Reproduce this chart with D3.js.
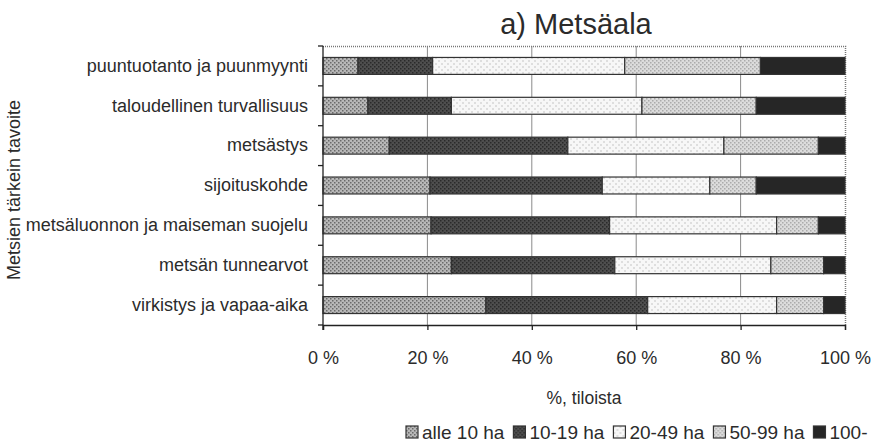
<!DOCTYPE html>
<html><head><meta charset="utf-8">
<script src="https://cdn.jsdelivr.net/npm/d3@7"></script>
<style>
body{margin:0;background:#fff;}
text{font-family:"Liberation Sans",Arial,sans-serif;fill:#2b2b2b;}
</style></head>
<body><svg id="c" width="873" height="446"></svg>
<script>
const categories = ["puuntuotanto ja puunmyynti","taloudellinen turvallisuus","metsästys","sijoituskohde","metsäluonnon ja maiseman suojelu","metsän tunnearvot","virkistys ja vapaa-aika"];
const seriesNames = ["alle 10 ha","10-19 ha","20-49 ha","50-99 ha","100-"];
const alle10 = [6.7, 8.6, 12.7, 20.5, 20.7, 24.6, 31.2];
const ha10_19 = [14.3, 16.0, 34.2, 33.0, 34.2, 31.3, 31.0];
const ha20_49 = [36.8, 36.5, 29.9, 20.6, 32.0, 29.9, 24.7];
const ha50_99 = [26.0, 21.9, 18.1, 8.9, 8.0, 10.1, 9.0];
const ha100 = [16.2, 17.0, 5.1, 17.0, 5.1, 4.1, 4.1];
const xTicks = [0,20,40,60,80,100];
const title = "a) Metsäala";
const xTitle = "%, tiloista";
const yTitle = "Metsien tärkein tavoite";

const svg = d3.select("#c");
const defs = svg.append("defs");
// dotted textures
const pats = [
  {id:"p0", base:"#b8b8b8", dot:"#6a6a6a", s:2},
  {id:"p1", base:"#4e4e4e", dot:"#2a2a2a", s:2},
  {id:"p2", base:"#f7f7f7", dot:"#dedede", s:3},
  {id:"p3", base:"#dcdcdc", dot:"#ababab", s:2},
  {id:"p4", base:"#262626", dot:"#262626", s:2}
];
pats.forEach(p=>{
  const pt = defs.append("pattern").attr("id",p.id).attr("patternUnits","userSpaceOnUse")
    .attr("width",p.s*2).attr("height",p.s*2);
  pt.append("rect").attr("width",p.s*2).attr("height",p.s*2).attr("fill",p.base);
  pt.append("rect").attr("width",p.s/2+0.5).attr("height",p.s/2+0.5).attr("fill",p.dot);
  pt.append("rect").attr("x",p.s).attr("y",p.s).attr("width",p.s/2+0.5).attr("height",p.s/2+0.5).attr("fill",p.dot);
});

const L=323, R=845, T=46, B=325;
const x = d3.scaleLinear().domain([0,100]).range([L,R]);
const y = d3.scaleBand().domain(categories).range([T,B]).paddingInner(0.575).paddingOuter(0.2875);

// gridlines
svg.append("g").selectAll("line").data(xTicks.slice(1,-1)).join("line")
  .attr("x1",d=>x(d)).attr("x2",d=>x(d)).attr("y1",T).attr("y2",B)
  .attr("stroke","#8a8a8a").attr("stroke-width",1);
// plot border top/right dotted
svg.append("path").attr("d",`M${L},${T+0.5}H${R+0.5}V${B}`).attr("fill","none")
  .attr("stroke","#777").attr("stroke-width",1.5).attr("stroke-dasharray","1,1");

// stacked data
const seriesArrays = [alle10, ha10_19, ha20_49, ha50_99, ha100];
const table = categories.map((c,i)=>{const o={cat:c}; seriesNames.forEach((s,j)=>o[s]=seriesArrays[j][i]); return o;});
const stacked = d3.stack().keys(seriesNames)(table);

svg.append("g").selectAll("g").data(stacked).join("g")
  .attr("fill",(d,i)=>`url(#p${i})`)
  .selectAll("rect").data(d=>d).join("rect")
  .attr("x",d=>x(d[0])).attr("width",d=>x(d[1])-x(d[0]))
  .attr("y",d=>y(d.data.cat)).attr("height",y.bandwidth())
  .attr("stroke","#333").attr("stroke-width",1.2);

// left axis line + boundary ticks
const half = (y.step()-y.bandwidth())/2;
const bounds = categories.map(c=>y(c)-half).concat([B]);
svg.append("line").attr("x1",L).attr("x2",L).attr("y1",T).attr("y2",B+5).attr("stroke","#222").attr("stroke-width",1.3);
svg.append("g").selectAll("line").data(bounds).join("line")
  .attr("x1",L-5).attr("x2",L).attr("y1",d=>d).attr("y2",d=>d).attr("stroke","#222").attr("stroke-width",1.3);
// category labels
const ya = svg.append("g").attr("transform",`translate(${L},0)`)
  .call(d3.axisLeft(y).tickSize(0).tickPadding(15));
ya.select(".domain").remove();
ya.selectAll("text").style("font-size","18px").attr("fill","#2b2b2b").style("font-family","Liberation Sans, Arial, sans-serif");

// bottom axis
const xa = svg.append("g").attr("transform",`translate(0,${B})`)
  .call(d3.axisBottom(x).tickValues(xTicks).tickFormat(d=>d+" %").tickSize(5).tickPadding(21));
xa.select(".domain").attr("stroke","#222").attr("stroke-width",1.3);
xa.selectAll(".tick line").attr("stroke","#222").attr("stroke-width",1.3);
xa.selectAll("text").style("font-size","18px").attr("fill","#2b2b2b").style("font-family","Liberation Sans, Arial, sans-serif");

// titles
svg.append("text").attr("x",576).attr("y",34).attr("text-anchor","middle").style("font-size","29px").text(title);
svg.append("text").attr("x",(L+R)/2).attr("y",404).attr("text-anchor","middle").style("font-size","17.5px").text(xTitle);
svg.append("text").attr("transform","translate(20,190) rotate(-90)").attr("text-anchor","middle").style("font-size","18px").text(yTitle);

// legend (flow layout)
const lgRoot = svg.append("g").attr("transform","translate(406,426)");
let cx = 0;
seriesNames.forEach((name,i)=>{
  const g = lgRoot.append("g").attr("transform",`translate(${cx},0)`);
  g.append("rect").attr("width",12).attr("height",12).attr("fill",`url(#p${i})`).attr("stroke","#333").attr("stroke-width",1.2);
  const t = g.append("text").attr("x",16).attr("y",13).style("font-size","19px").text(name);
  cx += 16 + t.node().getComputedTextLength() + 9;
});
</script></body></html>
